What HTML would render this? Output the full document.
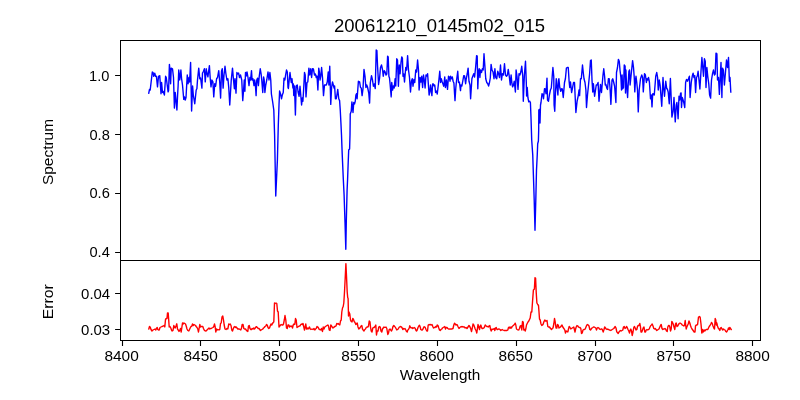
<!DOCTYPE html>
<html><head><meta charset="utf-8"><style>
html,body{margin:0;padding:0;background:#fff;}
svg{display:block;will-change:transform;}
text{font-family:"Liberation Sans",sans-serif;fill:#000;}
</style></head><body>
<svg width="800" height="400" viewBox="0 0 800 400">
<rect x="0" y="0" width="800" height="400" fill="#fff"/>
<path d="M148.75,93.10 L149.50,89.50 L150.20,90.00 L152.30,72.00 L153.10,72.50 L153.75,76.30 L154.75,73.10 L155.60,76.30 L156.40,76.30 L157.50,86.90 L158.50,76.30 L159.00,77.50 L159.75,75.60 L161.00,93.80 L161.60,82.50 L162.50,92.50 L163.10,91.30 L164.40,95.00 L165.60,76.30 L166.25,77.50 L168.10,91.90 L168.60,90.60 L169.40,64.40 L170.00,70.00 L170.60,83.75 L171.25,68.10 L172.50,68.75 L173.50,77.50 L174.40,108.10 L175.25,92.50 L176.90,110.00 L177.60,95.00 L178.10,86.25 L178.75,70.00 L179.75,80.00 L180.90,70.00 L181.60,78.75 L182.50,85.00 L183.75,99.40 L184.50,97.00 L185.25,100.00 L186.00,97.50 L187.25,75.00 L188.10,83.75 L189.00,77.50 L189.60,82.00 L190.60,62.50 L191.60,111.00 L192.60,86.00 L193.30,95.00 L194.75,103.75 L196.20,90.00 L196.90,88.75 L197.50,80.00 L198.75,68.10 L199.75,78.75 L200.60,78.00 L201.90,88.10 L202.50,73.10 L203.50,71.25 L204.40,68.75 L205.25,81.90 L206.25,68.75 L207.10,73.75 L207.90,76.90 L209.40,65.60 L210.25,78.75 L211.00,86.90 L211.90,80.00 L212.90,81.90 L213.75,96.90 L214.75,83.75 L215.60,86.25 L216.60,78.75 L217.50,77.50 L218.75,70.60 L219.75,82.50 L220.60,98.10 L221.50,71.25 L222.25,68.75 L223.10,88.10 L224.00,75.00 L225.00,66.25 L225.90,73.75 L226.90,80.00 L227.90,78.75 L228.75,87.50 L229.75,105.00 L231.25,80.00 L232.50,68.10 L233.50,80.00 L234.40,88.75 L235.00,78.75 L236.00,93.10 L236.90,72.50 L237.80,74.00 L238.60,73.10 L239.50,77.50 L240.50,75.00 L241.75,80.00 L242.75,100.60 L243.60,90.00 L244.25,80.00 L244.90,91.25 L245.50,72.50 L246.30,76.00 L247.00,71.90 L248.00,77.50 L249.00,85.60 L249.90,77.50 L250.60,80.00 L251.50,70.60 L252.10,80.00 L253.00,78.75 L254.00,85.60 L254.60,80.00 L255.30,83.75 L256.10,95.60 L256.75,80.00 L257.60,78.10 L258.40,85.60 L259.25,76.25 L260.25,68.75 L261.10,73.75 L261.75,80.00 L262.75,92.50 L263.60,76.90 L264.20,80.00 L264.90,92.50 L265.75,85.00 L266.75,80.00 L268.00,71.90 L269.00,80.00 L269.90,72.50 L270.75,80.00 L271.40,94.00 L272.60,101.50 L273.80,110.00 L274.60,135.00 L275.75,196.00 L277.40,160.00 L278.30,125.00 L279.00,105.00 L279.60,91.00 L280.50,93.75 L281.50,98.75 L282.30,95.00 L283.25,92.50 L284.00,78.10 L284.90,80.00 L285.60,75.00 L286.50,70.00 L287.30,72.00 L288.00,87.50 L288.40,88.50 L289.20,80.00 L290.00,72.50 L290.75,78.75 L291.25,82.50 L292.00,78.75 L292.90,88.00 L293.40,84.00 L293.75,95.60 L294.50,86.00 L295.40,115.00 L296.20,86.00 L297.25,85.00 L298.10,92.00 L299.10,96.25 L300.00,86.25 L301.60,105.00 L302.30,98.00 L302.90,101.25 L303.60,90.00 L304.50,72.50 L305.20,75.00 L306.00,96.90 L307.00,82.50 L307.80,82.00 L308.90,68.10 L309.75,75.00 L310.75,68.75 L311.60,77.50 L312.50,68.75 L313.40,69.00 L314.50,75.00 L315.40,74.00 L316.25,77.50 L317.00,76.00 L317.90,90.00 L318.75,68.10 L319.40,72.00 L320.00,80.00 L320.80,76.00 L321.60,67.50 L322.50,77.50 L323.50,95.60 L324.50,85.00 L325.40,85.00 L326.30,85.00 L327.25,82.00 L328.25,71.90 L328.90,85.00 L329.75,66.25 L330.75,104.40 L331.60,87.50 L332.50,81.90 L333.30,85.00 L334.10,88.00 L334.60,86.00 L335.40,98.75 L336.25,98.75 L337.10,93.75 L337.75,89.40 L338.75,98.75 L339.60,100.60 L340.25,110.00 L340.90,122.50 L341.50,135.00 L342.20,154.00 L343.30,179.00 L344.10,195.00 L345.00,222.00 L345.80,249.30 L346.30,222.00 L347.10,190.00 L347.60,179.00 L348.20,162.50 L348.70,150.00 L349.60,149.00 L350.00,135.00 L350.25,114.00 L351.25,111.25 L351.90,101.90 L352.40,106.00 L353.00,112.50 L353.75,102.50 L354.50,104.00 L355.25,101.25 L355.90,95.00 L356.50,93.75 L357.10,98.75 L358.40,81.25 L359.60,81.90 L360.50,87.50 L361.25,88.00 L362.10,95.60 L363.00,88.75 L364.00,69.40 L365.00,76.25 L365.90,87.50 L366.75,85.00 L367.50,87.00 L368.75,93.00 L369.60,103.10 L370.30,83.00 L371.50,75.60 L372.50,80.00 L373.40,86.25 L374.25,84.00 L375.25,88.50 L376.20,50.00 L376.90,50.50 L377.50,65.00 L378.60,84.50 L379.60,78.00 L380.50,67.50 L381.50,65.00 L382.60,70.00 L383.25,76.25 L384.25,70.60 L385.10,71.90 L386.00,75.00 L386.80,74.00 L387.60,56.25 L388.20,57.00 L388.90,76.25 L389.50,78.00 L390.10,84.00 L391.20,96.90 L391.75,82.50 L392.60,90.00 L393.40,86.00 L394.20,88.00 L395.10,78.75 L395.75,86.00 L396.75,58.75 L397.50,60.00 L398.40,86.25 L399.25,65.00 L400.10,73.75 L401.00,62.50 L401.75,56.90 L402.40,58.00 L403.00,76.25 L403.80,74.00 L404.50,82.00 L405.75,67.50 L406.60,70.00 L407.60,55.60 L408.50,70.00 L409.50,77.50 L410.50,92.00 L411.40,81.25 L412.25,78.75 L413.00,86.25 L413.90,79.40 L414.75,82.50 L415.75,70.00 L416.60,72.00 L417.60,60.00 L418.50,70.00 L419.10,90.00 L420.10,77.50 L421.00,82.00 L421.75,76.25 L422.60,87.50 L423.50,75.00 L424.30,80.00 L425.10,88.00 L426.00,75.00 L426.80,76.00 L427.60,73.75 L428.50,86.25 L429.10,95.00 L429.80,92.00 L430.50,85.00 L431.90,95.60 L432.60,84.00 L433.40,84.00 L434.10,86.00 L434.75,85.00 L435.60,92.50 L436.50,91.00 L437.25,94.00 L438.75,81.25 L439.75,71.25 L440.60,82.50 L441.25,78.75 L442.25,81.90 L443.00,84.00 L443.75,86.25 L444.75,76.90 L445.40,87.50 L446.50,80.00 L447.50,89.40 L448.50,76.25 L449.30,77.00 L450.00,81.25 L450.60,76.25 L451.50,78.75 L452.30,77.00 L453.10,81.25 L453.90,83.00 L455.00,100.60 L455.80,88.00 L456.60,80.00 L457.75,71.25 L458.50,82.50 L459.40,82.00 L460.50,90.60 L461.00,85.00 L461.90,86.00 L462.75,81.25 L463.75,75.60 L464.60,76.00 L465.60,83.75 L466.25,78.75 L467.25,73.75 L468.10,68.10 L469.00,81.25 L470.00,85.00 L470.60,98.75 L471.90,78.75 L472.75,76.25 L473.75,73.75 L474.60,77.00 L475.60,67.50 L476.60,55.60 L477.20,56.00 L477.80,88.75 L478.50,72.00 L479.20,68.75 L479.90,77.50 L480.50,70.00 L481.50,72.50 L482.40,68.75 L483.20,70.00 L484.00,53.75 L484.90,66.25 L485.75,78.75 L486.75,82.50 L487.75,83.75 L488.60,86.00 L489.50,82.50 L490.30,78.00 L491.10,64.40 L492.00,70.00 L493.00,71.90 L494.00,78.75 L494.90,68.75 L495.75,77.50 L496.75,78.75 L497.75,71.25 L498.60,73.75 L499.50,77.50 L500.50,65.00 L501.50,80.00 L502.40,73.75 L503.40,75.00 L504.50,63.75 L505.50,75.00 L506.50,76.25 L507.40,75.00 L508.25,69.40 L509.25,76.25 L510.25,85.00 L511.10,75.00 L512.00,84.00 L512.60,86.90 L513.50,85.00 L514.25,81.25 L515.40,92.00 L516.10,70.00 L517.00,76.25 L518.00,89.40 L519.00,73.75 L519.90,75.00 L520.80,72.00 L521.75,66.25 L522.75,76.25 L523.30,101.25 L524.40,75.00 L525.50,61.25 L526.30,82.50 L526.60,96.00 L527.25,87.50 L527.90,97.50 L528.75,101.90 L529.75,101.25 L530.40,102.50 L531.00,117.50 L531.70,140.00 L532.75,155.00 L533.40,175.00 L534.20,200.00 L535.00,230.20 L535.80,200.00 L536.50,170.00 L537.25,155.00 L537.70,143.75 L538.40,141.00 L538.70,130.00 L538.80,110.00 L539.50,109.40 L540.00,123.00 L540.50,105.00 L541.00,102.50 L542.00,93.75 L542.90,94.40 L543.50,98.75 L544.50,88.75 L545.20,89.00 L546.00,93.75 L547.00,78.10 L547.50,100.00 L548.50,101.25 L549.40,95.00 L550.40,90.00 L551.30,88.00 L552.90,67.50 L553.75,76.25 L554.10,105.00 L554.75,111.25 L555.50,92.00 L556.25,78.75 L557.25,88.75 L557.90,95.00 L558.50,80.00 L558.90,78.75 L559.75,87.50 L560.75,91.25 L561.60,88.75 L562.30,89.00 L563.25,97.50 L564.50,82.50 L565.40,78.75 L566.40,68.10 L567.30,67.50 L568.25,67.50 L569.10,81.25 L569.75,87.50 L570.50,82.00 L571.60,92.50 L572.50,88.10 L573.50,82.50 L574.50,82.50 L575.90,112.50 L577.10,101.25 L578.40,95.00 L579.00,90.00 L579.60,95.60 L580.50,78.75 L581.30,78.75 L582.50,65.00 L583.40,73.75 L584.00,78.75 L585.00,82.50 L585.90,90.00 L586.50,107.50 L587.50,95.00 L588.40,86.25 L589.60,73.75 L590.50,60.60 L591.25,60.00 L592.00,80.00 L592.75,92.00 L593.40,83.75 L594.60,96.25 L596.25,85.00 L597.10,85.00 L598.10,82.50 L599.00,101.25 L600.50,84.40 L601.50,92.50 L603.00,75.00 L603.75,68.75 L604.60,76.25 L605.25,85.00 L605.90,84.40 L606.75,88.00 L607.50,89.40 L608.40,78.75 L609.20,78.75 L610.00,87.50 L610.90,104.40 L612.00,80.00 L612.75,78.75 L613.75,82.50 L614.60,86.25 L615.90,102.50 L616.50,72.50 L617.50,67.50 L618.40,59.40 L619.25,61.25 L620.00,70.00 L620.90,77.50 L621.50,90.00 L622.10,75.00 L622.60,88.75 L623.50,87.50 L624.25,65.00 L625.10,66.25 L625.50,93.00 L625.90,70.00 L626.40,81.25 L627.60,97.50 L628.40,80.00 L628.90,71.25 L629.50,70.00 L630.10,85.00 L631.00,76.25 L632.60,60.60 L633.50,67.50 L634.25,77.50 L634.80,91.90 L635.50,80.00 L636.00,76.25 L636.75,82.50 L637.50,90.00 L638.25,111.90 L639.20,90.00 L640.50,78.75 L641.75,75.00 L642.60,77.50 L643.30,91.90 L644.50,73.75 L645.40,75.00 L646.40,82.50 L647.00,78.75 L647.70,80.00 L648.50,77.50 L649.40,82.00 L650.50,98.75 L651.30,95.00 L652.00,106.90 L652.70,94.00 L653.25,93.75 L654.25,95.00 L655.75,76.25 L656.75,72.50 L657.60,77.50 L658.25,90.00 L659.25,80.00 L660.10,85.00 L661.75,106.25 L663.00,77.50 L663.50,86.00 L664.50,96.25 L665.75,81.25 L666.75,88.75 L667.25,88.75 L668.20,92.00 L669.25,103.75 L670.40,78.50 L671.90,117.00 L673.10,111.25 L674.00,97.50 L674.60,110.00 L675.25,121.90 L676.25,105.00 L676.90,102.50 L677.50,110.00 L678.10,118.75 L679.00,96.25 L679.80,100.00 L680.60,93.10 L681.10,93.00 L681.50,107.50 L682.25,97.50 L683.10,100.00 L683.90,103.00 L684.75,107.50 L685.60,82.50 L686.50,79.40 L687.50,81.25 L688.40,79.00 L689.40,76.25 L690.10,97.50 L691.25,82.50 L692.25,76.25 L693.10,73.10 L694.00,77.50 L694.75,75.60 L695.60,92.50 L696.50,77.50 L697.30,76.00 L698.10,71.25 L699.00,80.00 L699.90,89.00 L701.00,71.25 L701.90,57.50 L702.75,67.50 L703.50,76.25 L704.40,58.75 L705.25,61.25 L706.00,87.50 L706.90,67.50 L707.75,76.25 L708.75,83.75 L709.60,95.00 L710.60,98.10 L711.50,80.00 L712.50,73.75 L713.50,70.00 L714.40,75.00 L715.20,74.00 L716.00,53.10 L716.90,53.75 L717.50,80.00 L718.50,77.50 L719.40,94.40 L721.00,62.50 L721.90,97.50 L722.50,68.10 L723.40,70.00 L724.40,85.00 L725.50,72.00 L726.50,60.00 L727.50,67.50 L728.50,57.50 L729.40,81.25 L730.00,77.50 L730.80,92.00" fill="none" stroke="#0000ff" stroke-width="1.39" stroke-linejoin="round" stroke-linecap="square"/>
<path d="M148.80,329.00 L149.50,326.50 L150.20,327.00 L151.00,329.50 L152.00,331.00 L153.00,330.00 L154.00,329.50 L155.00,329.00 L155.80,330.00 L156.50,328.50 L157.20,327.50 L157.80,329.50 L158.50,330.00 L159.20,330.00 L160.00,327.50 L161.00,327.00 L162.00,326.50 L163.00,326.20 L164.00,325.50 L164.80,327.00 L165.50,319.50 L166.20,318.50 L167.00,318.50 L167.50,313.00 L168.20,313.00 L169.20,327.00 L170.00,326.50 L170.80,328.00 L171.50,330.00 L172.20,331.00 L173.00,330.50 L173.80,325.50 L174.50,327.00 L175.20,328.00 L176.00,326.00 L176.80,323.80 L177.50,329.00 L178.20,330.00 L179.00,331.50 L179.80,330.00 L180.50,328.50 L181.20,332.00 L182.50,323.00 L183.20,324.00 L184.00,323.00 L184.80,323.50 L185.50,324.00 L186.20,326.00 L187.00,329.00 L187.80,330.50 L188.80,331.00 L189.50,329.50 L190.20,328.00 L191.00,326.50 L191.80,326.20 L192.50,324.00 L193.20,325.50 L194.00,324.50 L194.80,325.00 L195.50,325.50 L196.20,326.50 L197.00,327.50 L197.80,329.00 L198.50,332.00 L199.80,324.50 L200.50,327.00 L201.20,326.50 L202.00,326.50 L202.80,326.50 L203.50,328.50 L204.20,330.00 L205.00,330.80 L206.00,331.00 L207.00,330.00 L208.00,329.00 L209.00,328.00 L209.80,329.00 L210.50,328.50 L211.20,328.50 L212.00,328.00 L213.00,327.50 L213.80,326.50 L214.50,324.00 L215.20,327.00 L215.80,332.00 L216.50,329.00 L217.20,330.00 L218.00,329.50 L219.00,330.00 L219.80,329.50 L220.50,323.50 L221.20,323.00 L222.00,317.00 L222.80,316.00 L223.50,320.00 L224.20,325.00 L225.00,329.00 L226.00,329.50 L227.00,328.50 L227.80,329.00 L228.80,324.00 L229.50,324.50 L230.20,324.00 L231.00,325.50 L231.80,330.00 L232.50,331.00 L233.20,329.00 L234.00,327.00 L234.80,326.50 L235.50,327.50 L236.20,327.00 L237.00,328.00 L237.80,329.00 L238.50,328.80 L239.20,329.00 L240.00,329.50 L240.80,330.00 L241.50,328.00 L242.20,324.50 L243.00,324.50 L243.80,328.50 L244.50,329.00 L245.50,329.00 L246.20,330.00 L247.00,331.00 L247.80,331.50 L248.50,326.00 L249.20,325.50 L250.00,328.50 L250.80,329.50 L251.50,329.50 L252.20,328.50 L253.00,329.00 L253.80,328.00 L254.50,329.00 L255.20,328.00 L256.00,326.80 L256.80,326.80 L257.50,327.80 L258.20,328.50 L259.00,328.50 L259.80,329.50 L260.50,330.50 L261.20,330.00 L262.00,329.50 L262.80,329.00 L263.50,328.00 L264.20,327.50 L265.00,326.50 L265.80,326.00 L266.50,324.50 L267.20,325.00 L268.00,327.50 L268.80,328.50 L269.50,328.00 L270.20,326.00 L271.00,324.00 L271.80,325.00 L272.50,323.50 L273.20,322.50 L273.80,322.00 L274.50,303.00 L275.20,303.50 L276.00,303.00 L276.80,303.50 L277.50,311.00 L278.20,312.00 L279.00,327.00 L279.80,326.00 L280.50,325.00 L281.20,324.50 L282.00,325.00 L282.80,325.00 L283.50,324.00 L284.30,320.00 L285.00,315.50 L285.80,320.00 L286.50,328.00 L287.20,328.50 L288.00,325.00 L288.80,325.00 L289.50,327.00 L290.20,326.00 L291.00,326.50 L291.80,326.00 L292.50,328.00 L293.20,325.00 L294.00,324.00 L294.80,324.50 L295.50,318.50 L296.20,320.00 L297.00,327.50 L297.80,327.00 L298.50,326.50 L299.20,326.00 L300.00,326.00 L300.80,324.50 L301.50,324.00 L302.20,324.50 L303.00,323.50 L303.80,327.00 L304.50,330.00 L305.80,324.00 L306.50,329.00 L307.20,328.00 L308.00,329.00 L308.80,328.00 L309.50,327.00 L310.20,329.00 L311.00,329.50 L312.00,329.00 L313.00,329.50 L314.00,328.50 L314.80,330.00 L315.50,329.00 L316.20,328.50 L317.00,326.50 L317.80,327.00 L318.50,328.00 L319.20,329.50 L320.00,329.50 L320.80,330.00 L321.50,328.50 L322.50,331.50 L323.20,327.00 L324.00,329.00 L324.80,327.00 L325.50,326.50 L326.20,326.00 L327.00,325.50 L327.80,325.00 L328.50,326.00 L329.20,330.00 L330.00,330.50 L330.80,325.00 L331.50,326.00 L332.20,327.00 L333.00,328.00 L333.80,327.50 L334.50,326.50 L335.20,326.50 L336.00,326.00 L336.80,323.50 L337.50,324.00 L338.20,323.50 L339.00,324.50 L339.80,325.00 L340.50,321.00 L341.20,320.00 L341.80,312.00 L342.50,308.00 L343.20,306.50 L343.80,303.00 L344.50,292.00 L345.20,278.00 L345.90,263.60 L346.50,276.00 L347.20,292.00 L347.70,297.50 L348.10,298.50 L348.50,316.00 L349.00,312.00 L349.80,314.00 L350.50,320.00 L351.20,321.50 L352.00,322.00 L352.80,318.50 L353.50,319.50 L354.20,321.50 L355.00,322.50 L355.80,324.50 L356.50,324.00 L357.20,323.00 L358.00,327.00 L358.80,329.00 L359.50,328.50 L360.20,327.50 L361.00,326.00 L361.80,325.50 L362.50,329.00 L363.20,330.00 L364.00,331.00 L364.80,329.50 L365.50,329.00 L366.20,327.50 L367.00,327.00 L367.80,327.00 L368.50,326.00 L369.20,321.00 L370.00,322.00 L370.50,327.00 L371.20,331.00 L372.00,332.00 L372.80,328.00 L373.50,327.50 L374.20,327.50 L375.00,326.50 L375.80,325.00 L376.50,335.00 L377.20,331.00 L378.00,331.00 L378.80,327.00 L379.50,326.50 L380.20,327.00 L381.00,331.00 L381.80,332.00 L382.50,329.00 L383.20,328.00 L384.00,327.00 L385.00,327.50 L386.00,327.00 L386.80,328.50 L387.80,334.50 L388.50,333.00 L389.20,329.50 L390.00,329.00 L390.80,330.00 L391.50,331.00 L392.20,329.50 L393.00,326.50 L393.80,325.50 L394.50,326.50 L395.20,327.00 L396.00,328.50 L396.80,330.00 L397.50,329.50 L398.20,329.00 L399.00,327.50 L399.80,326.80 L400.80,326.50 L401.50,327.00 L402.20,328.00 L402.80,329.50 L403.50,328.50 L404.20,329.00 L405.00,328.50 L405.80,330.00 L406.50,331.50 L407.20,332.00 L407.80,330.00 L408.50,329.50 L409.20,328.00 L409.80,325.80 L410.50,327.50 L411.20,328.00 L412.00,327.50 L412.80,328.50 L413.50,328.00 L414.20,327.50 L415.00,328.00 L415.80,330.00 L416.50,331.00 L417.20,330.00 L418.00,327.50 L418.80,326.00 L419.50,325.20 L420.20,327.00 L420.80,329.50 L421.50,330.00 L422.20,330.00 L423.00,329.00 L423.80,327.00 L424.50,326.80 L425.20,327.50 L426.00,329.50 L426.80,331.00 L427.50,331.00 L428.20,325.00 L429.00,324.50 L429.80,324.80 L430.50,324.50 L431.20,325.00 L432.00,324.50 L432.80,326.50 L433.50,328.00 L434.20,327.50 L435.00,327.50 L435.80,326.50 L436.50,327.00 L437.20,325.00 L438.00,325.50 L438.80,328.00 L439.50,330.00 L440.20,330.50 L441.00,329.50 L441.80,329.00 L442.50,328.00 L443.20,327.50 L444.00,327.00 L444.80,326.50 L445.50,329.00 L446.20,327.50 L447.00,327.50 L447.80,328.50 L448.50,329.00 L449.20,329.00 L450.00,329.20 L450.80,329.00 L451.50,329.00 L452.20,328.80 L453.00,328.50 L453.80,325.00 L454.50,323.20 L455.20,324.00 L456.00,325.00 L456.80,324.50 L457.50,325.50 L458.20,327.00 L459.00,328.50 L459.80,327.50 L460.50,327.00 L461.20,326.50 L462.00,327.00 L462.80,326.50 L463.50,327.00 L464.50,327.00 L465.00,328.00 L466.00,327.50 L467.00,328.50 L468.00,327.00 L469.00,325.50 L470.00,327.00 L470.80,329.00 L471.50,331.50 L472.30,328.00 L473.00,324.00 L473.80,325.00 L474.50,327.00 L475.20,329.00 L476.00,330.50 L476.80,333.00 L477.50,328.00 L478.00,324.50 L478.80,327.00 L479.50,329.50 L480.20,326.00 L480.80,325.00 L481.50,327.50 L482.20,328.50 L483.00,328.50 L483.80,328.00 L484.50,327.00 L485.20,325.00 L486.00,325.80 L486.80,326.50 L487.50,326.50 L488.20,327.00 L489.00,326.00 L489.80,325.50 L490.50,329.00 L491.20,331.00 L492.00,329.00 L492.80,329.50 L493.50,329.00 L494.20,328.50 L494.80,330.50 L495.50,328.00 L496.20,327.50 L497.00,329.50 L497.80,329.50 L498.50,329.00 L499.20,329.00 L500.00,329.50 L500.80,330.50 L501.50,330.00 L502.20,329.50 L503.00,330.00 L504.00,330.50 L505.00,330.50 L506.00,330.50 L507.00,330.50 L507.80,330.00 L508.50,327.50 L509.20,327.00 L510.00,328.50 L510.80,327.00 L511.50,328.00 L512.20,326.50 L513.00,325.80 L513.80,325.00 L514.50,324.50 L515.20,323.20 L515.80,325.00 L516.50,329.00 L517.20,329.50 L518.00,330.00 L518.80,329.80 L519.50,328.50 L520.20,326.00 L521.00,325.50 L521.80,330.00 L522.50,321.50 L523.20,322.00 L523.80,330.00 L524.50,329.50 L525.20,331.00 L525.80,329.00 L526.50,325.00 L527.20,323.50 L528.00,322.00 L528.80,321.00 L529.50,319.50 L530.20,318.00 L531.00,312.00 L531.80,312.00 L532.50,302.00 L533.40,290.00 L534.40,289.00 L535.00,277.60 L535.60,278.25 L536.25,293.00 L536.90,303.00 L537.75,304.50 L538.50,305.50 L539.00,312.00 L539.50,319.00 L540.20,320.00 L541.00,324.00 L541.80,325.50 L542.50,325.00 L543.20,324.00 L544.00,321.50 L544.80,320.00 L545.50,321.00 L546.30,321.00 L547.00,320.50 L547.80,326.50 L548.50,327.00 L549.50,327.00 L550.50,328.50 L551.50,329.50 L552.20,328.50 L553.00,328.00 L553.80,324.00 L554.50,318.50 L555.20,322.00 L556.00,328.00 L556.80,328.00 L557.50,324.50 L558.20,325.00 L559.00,328.00 L559.80,327.50 L560.50,327.00 L561.20,326.00 L562.00,325.00 L562.80,327.00 L563.50,328.00 L564.20,329.00 L564.80,330.00 L565.50,333.00 L566.20,331.00 L567.00,331.50 L567.80,332.00 L568.50,329.00 L569.20,326.50 L570.00,327.50 L570.80,329.00 L571.50,328.50 L572.20,328.00 L573.00,327.50 L573.80,327.00 L574.50,330.00 L575.00,332.00 L575.60,329.00 L576.20,327.00 L577.00,325.50 L577.80,326.00 L578.50,327.00 L579.20,327.50 L580.00,327.50 L580.80,328.50 L581.50,333.50 L582.20,333.00 L583.00,330.00 L583.80,329.50 L584.50,329.50 L585.20,329.00 L586.00,327.00 L586.80,325.00 L587.50,324.50 L588.20,325.00 L589.00,326.00 L589.80,329.50 L590.50,330.00 L591.20,329.00 L592.00,328.00 L592.80,327.50 L593.50,327.00 L594.20,327.00 L595.00,327.50 L595.80,328.00 L596.50,330.00 L597.20,328.00 L598.00,327.50 L598.80,328.00 L599.50,329.00 L600.20,329.50 L601.00,329.00 L601.80,329.00 L602.50,330.00 L603.20,332.00 L604.00,329.50 L604.70,327.00 L605.50,328.00 L606.20,329.00 L607.00,329.50 L607.80,329.00 L608.50,329.50 L609.20,330.00 L610.00,330.00 L610.80,330.50 L611.50,330.00 L612.20,329.50 L613.00,329.00 L613.80,328.50 L614.50,327.50 L615.20,326.50 L616.00,328.00 L616.80,332.00 L617.50,332.50 L618.20,333.50 L619.00,332.00 L619.80,331.00 L620.50,330.50 L621.20,331.00 L622.00,330.50 L622.80,330.00 L623.50,327.00 L624.20,326.50 L625.00,328.50 L625.80,328.00 L626.50,326.50 L627.20,327.50 L628.00,329.50 L628.80,331.00 L629.50,333.00 L630.20,330.00 L630.80,329.00 L631.50,331.00 L632.20,335.50 L633.00,332.00 L633.80,327.50 L634.50,326.50 L635.20,328.00 L636.00,330.00 L636.80,329.50 L637.50,326.50 L638.20,325.50 L639.00,325.50 L639.80,323.50 L640.50,327.00 L641.00,332.00 L641.80,332.00 L642.50,330.00 L643.20,328.00 L644.00,327.00 L644.80,332.00 L645.50,332.00 L646.20,330.00 L647.00,329.50 L647.80,330.00 L648.50,329.50 L649.20,329.00 L650.00,327.00 L650.80,325.50 L651.50,325.00 L652.20,324.00 L653.00,326.00 L653.80,328.50 L654.50,329.00 L655.20,328.50 L656.00,329.50 L656.80,330.50 L657.50,330.00 L658.20,329.50 L659.00,329.00 L659.80,327.00 L660.50,325.50 L661.20,324.50 L662.00,328.50 L662.80,329.50 L663.50,329.00 L664.20,329.00 L665.00,328.50 L665.80,329.50 L666.50,331.00 L667.20,331.50 L667.80,327.00 L668.50,325.50 L669.20,325.50 L669.80,327.00 L670.50,331.00 L671.20,329.00 L671.80,321.50 L672.50,322.50 L673.20,324.00 L674.00,327.00 L674.80,329.50 L675.50,324.00 L676.20,323.00 L677.00,326.50 L677.80,326.00 L678.50,324.50 L679.20,323.50 L680.00,323.00 L680.80,323.50 L681.50,324.00 L682.20,325.00 L683.00,325.50 L683.80,326.00 L684.50,325.00 L685.20,320.50 L685.80,326.00 L686.20,329.00 L686.80,327.00 L687.50,325.50 L688.20,324.00 L689.00,321.00 L689.80,323.00 L690.50,325.50 L691.20,327.50 L692.00,329.00 L692.80,330.00 L693.50,331.00 L694.20,332.00 L695.00,332.00 L695.50,326.00 L696.30,325.00 L697.00,325.00 L697.60,324.50 L698.50,317.00 L699.50,316.50 L700.20,317.50 L701.00,324.00 L701.80,333.00 L702.50,329.50 L703.20,332.00 L704.00,330.00 L704.80,331.00 L705.50,330.00 L706.20,329.50 L707.00,329.50 L707.80,329.50 L708.50,328.00 L709.20,326.50 L710.00,325.50 L710.80,324.00 L711.50,322.50 L712.20,323.50 L713.00,326.00 L713.80,328.00 L714.50,329.00 L715.20,318.50 L715.80,320.00 L716.30,325.00 L716.80,323.00 L717.50,326.00 L718.20,328.00 L719.00,329.00 L719.80,330.50 L720.50,328.00 L721.20,327.50 L722.00,329.00 L722.80,330.00 L723.50,329.00 L724.20,329.50 L725.00,330.00 L725.80,331.50 L726.50,332.00 L727.20,331.00 L728.00,329.50 L728.50,328.00 L729.20,329.50 L729.80,327.50 L730.50,328.50 L731.20,329.50" fill="none" stroke="#ff0000" stroke-width="1.39" stroke-linejoin="round" stroke-linecap="square"/>
<path d="M120.5,40 V340.5 M760.5,40 V340.5 M120,40.5 H761 M120,260.5 H761 M120,340.5 H761" stroke="#000" stroke-width="1.11" fill="none" shape-rendering="crispEdges"/>
<path d="M115.1,75.5 H120 M115.1,134.5 H120 M115.1,193.5 H120 M115.1,252.5 H120 M115.1,293.5 H120 M115.1,329.5 H120 M122.5,341 V345.9 M200.5,341 V345.9 M279.5,341 V345.9 M358.5,341 V345.9 M437.5,341 V345.9 M516.5,341 V345.9 M595.5,341 V345.9 M673.5,341 V345.9 M752.5,341 V345.9" stroke="#000" stroke-width="1.11" fill="none"/>
<text x="109.45" y="81.00" text-anchor="end" font-size="13.89" textLength="20.35" lengthAdjust="spacingAndGlyphs">1.0</text>
<text x="109.80" y="140.00" text-anchor="end" font-size="13.89" textLength="20.35" lengthAdjust="spacingAndGlyphs">0.8</text>
<text x="109.80" y="198.00" text-anchor="end" font-size="13.89" textLength="20.35" lengthAdjust="spacingAndGlyphs">0.6</text>
<text x="109.80" y="257.00" text-anchor="end" font-size="13.89" textLength="20.35" lengthAdjust="spacingAndGlyphs">0.4</text>
<text x="110.20" y="299.00" text-anchor="end" font-size="13.89" textLength="29.10" lengthAdjust="spacingAndGlyphs">0.04</text>
<text x="110.20" y="335.00" text-anchor="end" font-size="13.89" textLength="29.10" lengthAdjust="spacingAndGlyphs">0.03</text>
<text x="121.60" y="361.00" text-anchor="middle" font-size="13.89" textLength="34.30" lengthAdjust="spacingAndGlyphs">8400</text>
<text x="200.70" y="361.00" text-anchor="middle" font-size="13.89" textLength="34.30" lengthAdjust="spacingAndGlyphs">8450</text>
<text x="279.60" y="361.00" text-anchor="middle" font-size="13.89" textLength="34.30" lengthAdjust="spacingAndGlyphs">8500</text>
<text x="358.50" y="361.00" text-anchor="middle" font-size="13.89" textLength="34.30" lengthAdjust="spacingAndGlyphs">8550</text>
<text x="436.60" y="361.00" text-anchor="middle" font-size="13.89" textLength="34.30" lengthAdjust="spacingAndGlyphs">8600</text>
<text x="515.60" y="361.00" text-anchor="middle" font-size="13.89" textLength="34.30" lengthAdjust="spacingAndGlyphs">8650</text>
<text x="594.60" y="361.00" text-anchor="middle" font-size="13.89" textLength="34.30" lengthAdjust="spacingAndGlyphs">8700</text>
<text x="673.60" y="361.00" text-anchor="middle" font-size="13.89" textLength="34.30" lengthAdjust="spacingAndGlyphs">8750</text>
<text x="752.60" y="361.00" text-anchor="middle" font-size="13.89" textLength="34.30" lengthAdjust="spacingAndGlyphs">8800</text>
<text x="439.5" y="32" text-anchor="middle" font-size="17.8" textLength="211.0" lengthAdjust="spacingAndGlyphs">20061210_0145m02_015</text>
<text x="440" y="380" text-anchor="middle" font-size="13.89" textLength="80.5" lengthAdjust="spacingAndGlyphs">Wavelength</text>
<text transform="translate(53,152) rotate(-90)" x="0" y="0" text-anchor="middle" font-size="13.89" textLength="66" lengthAdjust="spacingAndGlyphs">Spectrum</text>
<text transform="translate(53,301.8) rotate(-90)" x="0" y="0" text-anchor="middle" font-size="13.89" textLength="35" lengthAdjust="spacingAndGlyphs">Error</text>
</svg>
</body></html>
